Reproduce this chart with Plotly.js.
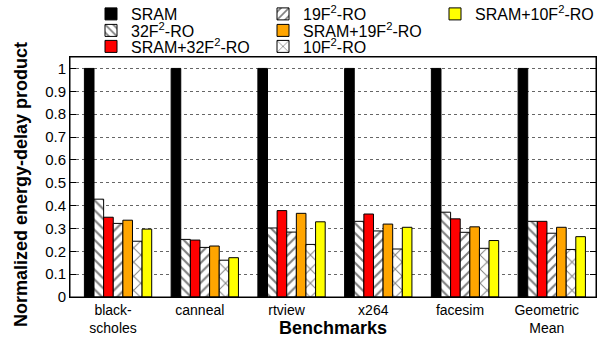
<!DOCTYPE html>
<html>
<head>
<meta charset="utf-8">
<script src="https://cdn.plot.ly/plotly-3.0.1.min.js"></script>
<style>html,body{margin:0;padding:0;background:#fff;overflow:hidden;}#chart{width:603px;height:337px;}</style>
</head>
<body>
<div id="chart"></div>
<script>
var categories = ['black-<br>scholes', 'canneal', 'rtview', 'x264', 'facesim', 'Geometric<br>Mean'];
var seriesNames = ['SRAM', '32F<sup>2</sup>-RO', 'SRAM+32F<sup>2</sup>-RO', '19F<sup>2</sup>-RO', 'SRAM+19F<sup>2</sup>-RO', '10F<sup>2</sup>-RO', 'SRAM+10F<sup>2</sup>-RO'];
var sram   = [1, 1, 1, 1, 1, 1];
var ro32   = [0.428, 0.252, 0.302, 0.331, 0.371, 0.331];
var sram32 = [0.349, 0.249, 0.378, 0.363, 0.342, 0.331];
var ro19   = [0.322, 0.217, 0.284, 0.289, 0.283, 0.279];
var sram19 = [0.336, 0.223, 0.366, 0.319, 0.307, 0.305];
var ro10   = [0.244, 0.161, 0.230, 0.210, 0.213, 0.208];
var sram10 = [0.297, 0.172, 0.329, 0.305, 0.247, 0.264];
var yTickVals = [0, 0.1, 0.2, 0.3, 0.4, 0.5, 0.6, 0.7, 0.8, 0.9, 1];

var values = [sram, ro32, sram32, ro19, sram19, ro10, sram10];
var styles = [
  {color: '#000000'},
  {color: '#ffffff', pattern: {shape: '\\', size: 7, solidity: 0.3, fgcolor: '#000', bgcolor: '#fff', fillmode: 'overlay'}},
  {color: '#ff0000'},
  {color: '#ffffff', pattern: {shape: '/', size: 7, solidity: 0.3, fgcolor: '#000', bgcolor: '#fff', fillmode: 'overlay'}},
  {color: '#ffa500'},
  {color: '#ffffff', pattern: {shape: 'x', size: 10, solidity: 0.18, fgcolor: '#000', bgcolor: '#fff', fillmode: 'overlay'}},
  {color: '#ffff00'}
];
// legend placement: column x (px of text start), row y (px of centre)
var legCol = [0, 0, 0, 1, 1, 1, 2];
var legRow = [0, 1, 2, 0, 1, 2, 0];
var colX = [131, 303, 475];
var rowY = [14, 30.5, 46.5];
var W = 603, H = 337;
var M = {l: 70, r: 7, t: 57, b: 40};
var plotW = W - M.l - M.r, plotH = H - M.t - M.b;

var traces = values.map(function (v, i) {
  var m = {color: styles[i].color, line: {color: '#000', width: 1}};
  if (styles[i].pattern) m.pattern = styles[i].pattern;
  return {
    type: 'bar', name: seriesNames[i], x: categories, y: v,
    marker: m, legend: i === 0 ? 'legend' : 'legend' + (i + 1),
    hoverinfo: 'y'
  };
});

var layout = {
  width: W, height: H,
  margin: {l: M.l, r: M.r, t: M.t, b: M.b, autoexpand: false},
  paper_bgcolor: '#fff', plot_bgcolor: '#fff',
  font: {family: 'Liberation Sans, Arial, sans-serif', color: '#000', size: 15},
  barmode: 'group', bargap: 0.224, bargroupgap: 0,
  xaxis: {
    type: 'category', range: [-0.554, 5.51],
    showline: true, linecolor: '#000', linewidth: 1, mirror: true,
    ticks: '', showgrid: false, tickfont: {size: 14},
    ticklabelshift: -5
  },
  yaxis: {
    range: [0, 1.05], tickvals: yTickVals,
    showline: true, linecolor: '#000', linewidth: 1, mirror: 'ticks',
    ticks: 'inside', ticklen: 6, tickcolor: '#000',
    showgrid: true, gridcolor: '#666', griddash: 'dot', gridwidth: 1,
    zeroline: false, tickfont: {size: 15}
  },
  shapes: [{
    type: 'rect', xref: 'paper', yref: 'paper', x0: 0, x1: 1, y0: 0, y1: 1,
    line: {color: '#000', width: 1}, fillcolor: 'rgba(0,0,0,0)'
  }],
  annotations: [{
    text: 'Benchmarks', xref: 'paper', yref: 'paper', x: 0.5, y: -0.129,
    xanchor: 'center', yanchor: 'middle', showarrow: false,
    font: {size: 18, weight: 'bold'}
  }, {
    text: 'Normalized energy-delay product', xref: 'paper', yref: 'paper',
    x: -0.093, y: 0.467, textangle: -90,
    xanchor: 'center', yanchor: 'middle', showarrow: false,
    font: {size: 18, weight: 'bold'}
  }, {
    // plot frame drawn on the top layer
    text: ' ', xref: 'paper', yref: 'paper', x: 0.5, y: 0.5,
    xanchor: 'center', yanchor: 'middle', showarrow: false,
    width: plotW, height: plotH, borderpad: 0, borderwidth: 1,
    bordercolor: '#000', bgcolor: 'rgba(0,0,0,0)'
  }],
  showlegend: true
};

for (var i = 0; i < 7; i++) {
  var key = i === 0 ? 'legend' : 'legend' + (i + 1);
  layout[key] = {
    xref: 'container', yref: 'container',
    x: (colX[legCol[i]] - 40) / W, y: 1 - rowY[legRow[i]] / H,
    xanchor: 'left', yanchor: 'middle',
    bgcolor: 'rgba(0,0,0,0)', borderwidth: 0,
    font: {size: 16}
  };
}

Plotly.newPlot('chart', traces, layout, {displayModeBar: false, staticPlot: true});
</script>
</body>
</html>
